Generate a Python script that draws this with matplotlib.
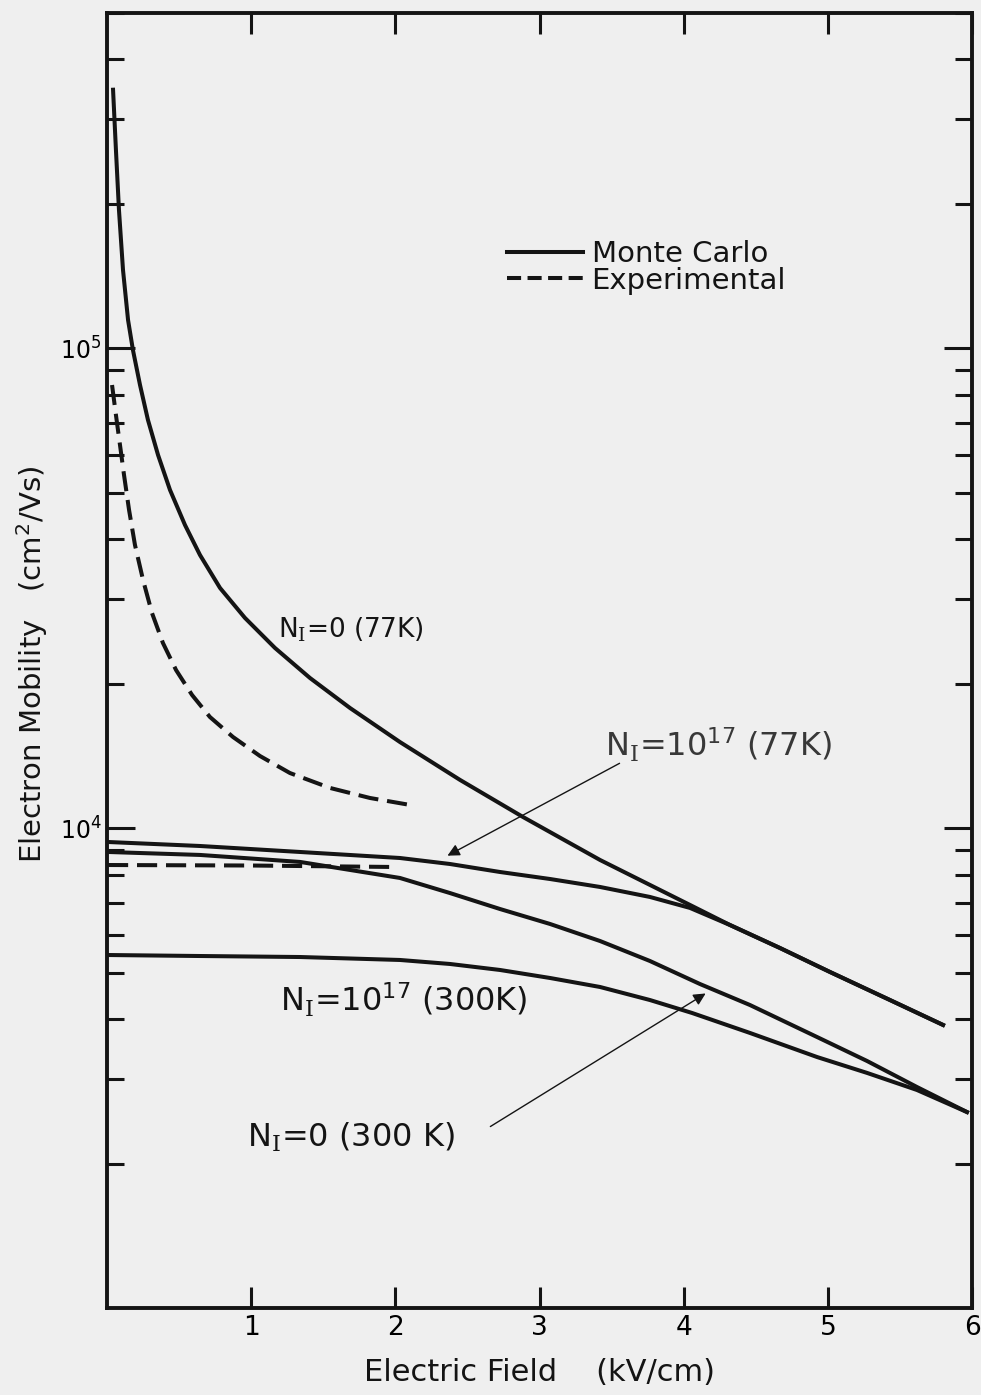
import numpy as np
import matplotlib
matplotlib.use("Agg")
import matplotlib.pyplot as plt
from matplotlib.ticker import LogLocator, NullFormatter, FixedLocator, FixedFormatter
from matplotlib.lines import Line2D

plt.rcParams['font.family'] = ['DejaVu Sans']
plt.rcParams['mathtext.fontset'] = 'custom'
plt.rcParams['mathtext.rm'] = 'DejaVu Serif'
plt.rcParams['mathtext.it'] = 'DejaVu Sans:italic'
plt.rcParams['mathtext.bf'] = 'DejaVu Sans:bold'
plt.rcParams['mathtext.default'] = 'regular'

# ---- data ----
mc_77_pure_x = [0.042, 0.062, 0.083, 0.111, 0.146, 0.180, 0.229, 0.284, 0.354, 0.437, 0.541, 0.645,
                0.784, 0.957, 1.165, 1.408, 1.686, 2.032, 2.448, 2.886, 3.420, 4.044, 4.321, 4.668,
                5.015, 5.431, 5.799]
mc_77_pure_y = [346000, 259100, 194300, 145700, 114600, 99200, 83880, 70940, 59960, 50690, 42840, 37100,
                31670, 27430, 23750, 20560, 17800, 15120, 12610, 10550, 8585, 6918, 6284, 5627,
                5015, 4384, 3890]

exp_77_pure_x = [0.035, 0.062, 0.090, 0.118, 0.153, 0.194, 0.250, 0.312, 0.388, 0.479, 0.590, 0.714,
                 0.874, 1.061, 1.269, 1.547, 1.824, 2.102]
exp_77_pure_y = [83880, 72650, 62920, 54480, 46050, 38930, 32910, 28090, 24320, 21360, 18950, 17050,
                 15490, 14140, 13030, 12130, 11560, 11180]

mc_77_dop_x = [0.007, 0.645, 1.339, 2.032, 2.379, 2.726, 3.073, 3.420, 3.766, 4.044, 4.321, 4.668,
               5.015, 5.431, 5.799]
mc_77_dop_y = [9359, 9181, 8921, 8667, 8421, 8104, 7836, 7542, 7189, 6820, 6284, 5627,
               5015, 4384, 3890]

mc_300_pure_x = [0.007, 0.645, 1.339, 2.032, 2.379, 2.726, 3.073, 3.420, 3.766, 4.113, 4.460, 4.925,
                 5.272, 5.618, 5.965]
mc_300_pure_y = [8921, 8795, 8505, 7875, 7325, 6785, 6315, 5819, 5287, 4734, 4280, 3671,
                 3272, 2888, 2561]

mc_300_dop_x = [0.007, 0.645, 1.339, 2.032, 2.379, 2.726, 3.073, 3.420, 3.766, 4.058, 4.460, 4.925,
                5.272, 5.618, 5.965]
mc_300_dop_y = [5441, 5415, 5389, 5313, 5212, 5064, 4873, 4667, 4384, 4120, 3743, 3335,
                3090, 2847, 2561]

exp_low_x = [0.007, 1.00, 2.01]
exp_low_y = [8380, 8360, 8300]

x_ticks = [1, 2, 3, 4, 5, 6]
x_ticklabels = ["1", "2", "3", "4", "5", "6"]
y_major = [1e4, 1e5]
y_majorlabels = [r"$\mathregular{10^4}$", r"$\mathregular{10^5}$"]

legend_labels = ["Monte Carlo", "Experimental"]
curve_labels = [r"N$_\mathrm{I}$=0 (77K)",
                r"N$_\mathrm{I}$=10$^{17}$ (77K)",
                r"N$_\mathrm{I}$=10$^{17}$ (300K)",
                r"N$_\mathrm{I}$=0 (300 K)"]

# ---- figure ----
W, H = 981, 1395
fig = plt.figure(figsize=(W / 100, H / 100), dpi=100)
bg = '#efefef'
fig.patch.set_facecolor(bg)
L, R, T, B = 107, 972, 13, 1308
ax = fig.add_axes([L / W, 1 - B / H, (R - L) / W, (B - T) / H])
ax.set_facecolor(bg)

ink = '#141414'
lw = 2.9
dash = (0, (5, 2.2))

ax.plot(mc_77_pure_x, mc_77_pure_y, color=ink, lw=lw)
ax.plot(exp_77_pure_x, exp_77_pure_y, color=ink, lw=lw, linestyle=dash)
ax.plot(mc_77_dop_x, mc_77_dop_y, color=ink, lw=lw)
ax.plot(mc_300_pure_x, mc_300_pure_y, color=ink, lw=lw)
ax.plot(mc_300_dop_x, mc_300_dop_y, color=ink, lw=lw)
ax.plot(exp_low_x, exp_low_y, color=ink, lw=lw, linestyle=dash)

ax.set_yscale('log')
ax.set_xlim(0, 6)
ax.set_ylim(1000, 5e5)

for s in ax.spines.values():
    s.set_linewidth(2.8)
    s.set_color(ink)

ax.xaxis.set_major_locator(FixedLocator(x_ticks))
ax.xaxis.set_major_formatter(FixedFormatter(x_ticklabels))
ax.yaxis.set_major_locator(FixedLocator(y_major))
ax.yaxis.set_major_formatter(FixedFormatter(y_majorlabels))
ax.yaxis.set_minor_locator(LogLocator(base=10, subs=np.arange(2, 10), numticks=20))
ax.yaxis.set_minor_formatter(NullFormatter())

ax.tick_params(axis='x', which='major', direction='in', top=True, bottom=True,
               length=15, width=2.2, color=ink, labelsize=19, pad=5)
ax.tick_params(axis='y', which='major', direction='in', left=True, right=True,
               length=20, width=2.2, color=ink, labelsize=17, pad=4)
ax.tick_params(axis='y', which='minor', direction='in', left=True, right=True,
               length=12, width=2.2, color=ink)

ax.set_xlabel("Electric Field    (kV/cm)", fontsize=22, color=ink, labelpad=12)
ax.set_ylabel("Electron Mobility   (cm$^2$/Vs)", fontsize=21, color=ink)
ax.yaxis.set_label_coords(-0.066, 0.497)

# legend
handles = [Line2D([], [], color=ink, lw=lw),
           Line2D([], [], color=ink, lw=lw, linestyle=(0, (3.5, 1.6)))]
def px2ax(px, py):
    return ((px - L) / (R - L), 1 - (py - T) / (B - T))
leg = ax.legend(handles, legend_labels, loc='upper left', bbox_to_anchor=px2ax(507, 240),
                frameon=False, fontsize=21, handlelength=2.6, handletextpad=0.3,
                labelspacing=-0.05, borderpad=0, borderaxespad=0)
for t in leg.get_texts():
    t.set_color(ink)

def px2data(px, py):
    x = (px - L) / (R - L) * 6
    ly = 3 + (B - py) / (B - T) * np.log10(500)
    return x, 10 ** ly

# curve annotations
ax.text(*px2data(278, 630), curve_labels[0], fontsize=19, color=ink, va='center', ha='left')
ax.text(*px2data(605, 745), curve_labels[1], fontsize=23, color='#383838', va='center', ha='left')
ax.text(*px2data(280, 1000), curve_labels[2], fontsize=23, color=ink, va='center', ha='left')
ax.text(*px2data(247, 1137), curve_labels[3], fontsize=23, color=ink, va='center', ha='left')

ax.annotate("", xy=px2data(445, 857), xytext=px2data(622, 762),
            arrowprops=dict(arrowstyle='-|>', color=ink, lw=1.0, mutation_scale=18))
ax.annotate("", xy=px2data(708, 992), xytext=px2data(488, 1128),
            arrowprops=dict(arrowstyle='-|>', color=ink, lw=1.0, mutation_scale=18))

fig.savefig("out.png", dpi=100, facecolor=bg)
